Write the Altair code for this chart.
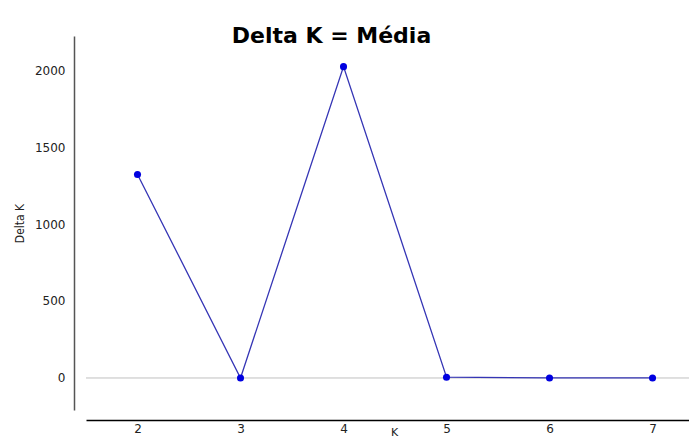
import altair as alt
import pandas as pd

k_values = [2, 3, 4, 5, 6, 7]
delta_k = [1322, 0, 2022, 5, 0, 0]
zero_line = [0]

df = pd.DataFrame({"K": k_values, "Delta K": delta_k})
zdf = pd.DataFrame({"z": zero_line})

xscale = alt.Scale(domain=[1.5, 7.354], nice=False, zero=False)
yscale = alt.Scale(domain=[-208, 2221], nice=False, zero=False)

x_axis = alt.Axis(
    values=k_values, format="d", offset=10, domainColor="#000000",
    domainWidth=1.5, ticks=False, labelPadding=3, labelFontSize=12,
    labelFont="DejaVu Sans", labelColor="#222222", titleFont="DejaVu Sans",
    titleFontSize=11, titleFontWeight="normal", titleBaseline="bottom",
    titleY=17, titleX=308, titleColor="#222222", grid=False,
)
y_axis = alt.Axis(
    values=[0, 500, 1000, 1500, 2000], format="d", offset=12, domainColor="#555555",
    domainWidth=1.5, ticks=False, labelPadding=9, labelFontSize=12,
    labelFont="DejaVu Sans", labelColor="#222222", titleFont="DejaVu Sans Condensed",
    titleFontSize=12, titleFontWeight="normal", titlePadding=8,
    titleColor="#222222", grid=False,
)

zero = alt.Chart(zdf).mark_rule(color="#c0c0c0", strokeWidth=1).encode(
    y=alt.Y("z:Q", scale=yscale, axis=y_axis, title="Delta K")
)
line = alt.Chart(df).mark_line(color="#3535b5", strokeWidth=1.3).encode(
    x=alt.X("K:Q", scale=xscale, axis=x_axis, title="K"),
    y=alt.Y("Delta K:Q", scale=yscale, axis=y_axis, title="Delta K"),
)
pts = alt.Chart(df).mark_point(filled=True, color="#0000e0", size=50, opacity=1).encode(
    x=alt.X("K:Q", scale=xscale, axis=x_axis, title="K"),
    y=alt.Y("Delta K:Q", scale=yscale, axis=y_axis, title="Delta K"),
)

chart = (
    alt.layer(zero, line, pts)
    .properties(
        width=603,
        height=374,
        background="white",
        padding={"left": 78, "top": 28, "right": 0, "bottom": 28},
        autosize=alt.AutoSizeParams(type="none"),
        title=alt.TitleParams(
            "Delta K = Média", font="DejaVu Sans", fontSize=22, fontWeight="bold",
            color="#000000", anchor="middle", dx=-56, dy=12, offset=0,
        ),
    )
    .configure_view(strokeWidth=0, stroke="transparent")
)

chart.save("out.html", embed_options={"renderer": "svg", "actions": False})
